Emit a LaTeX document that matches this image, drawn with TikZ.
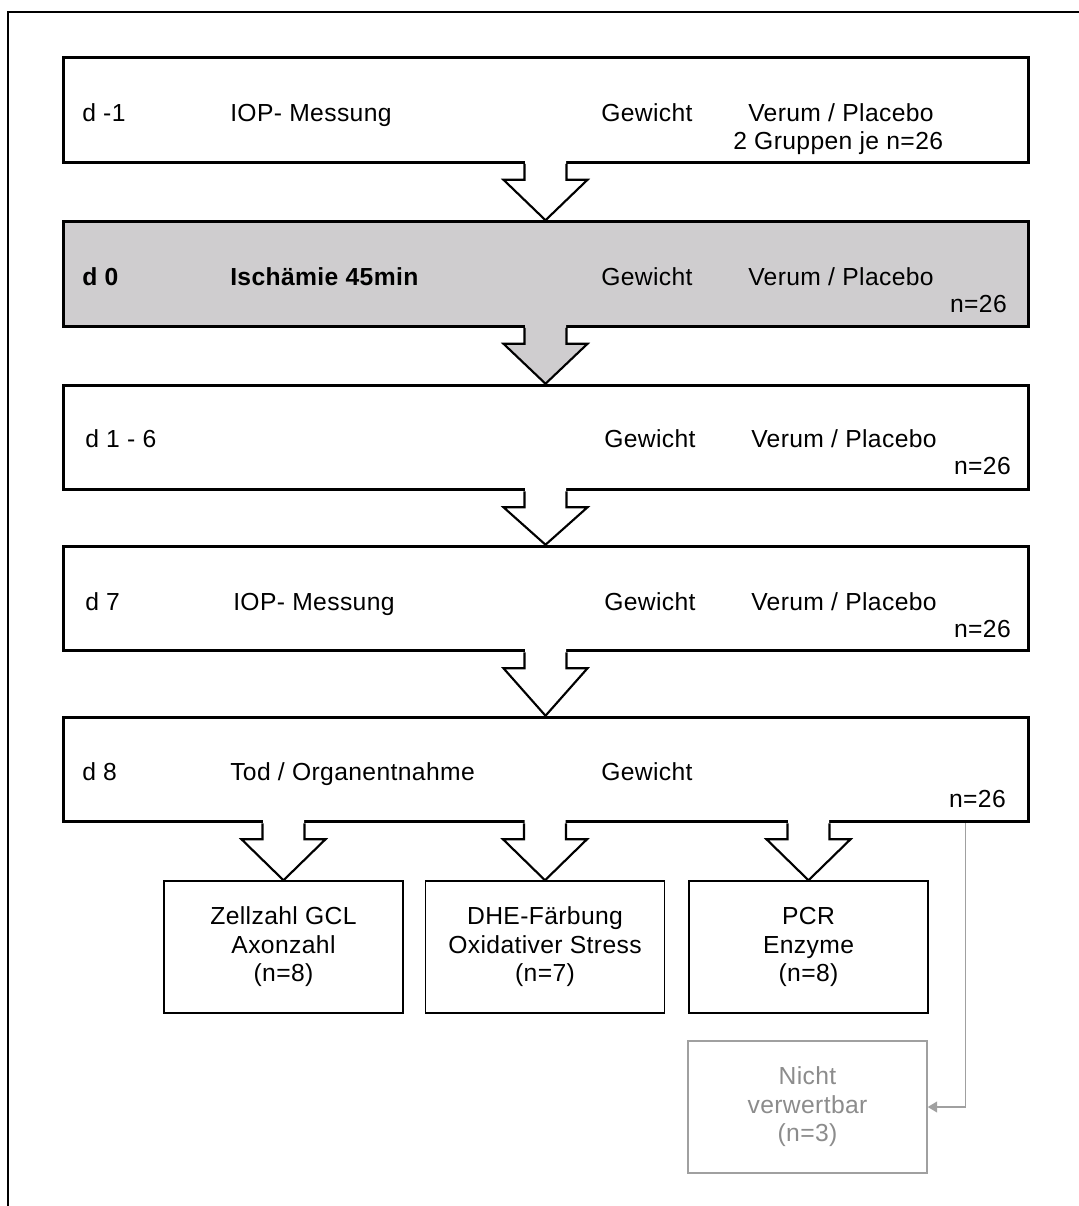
\documentclass[tikz,border=0pt]{standalone}
\usepackage{fontspec}
\setmainfont{Liberation Sans}[LetterSpace=1.5]
\usetikzlibrary{calc,arrows.meta}
\definecolor{boxgray}{RGB}{207,205,207}
\definecolor{softgray}{RGB}{160,160,160}
\definecolor{textgray}{RGB}{140,140,140}
\newcommand{\flowarrow}[3]{%
  \fill[#3] ($(#2.north |- #1.south)+(-20.5,-5)$) -- ++(0,21) -- ++(-21.5,0) -- (#2.north) -- ($(#2.north |- #1.south)+(42,16)$) -- ++(-21.5,0) -- ++(0,-21) -- cycle;
  \draw[arrowline] ($(#2.north |- #1.south)+(-21,0)$) -- ++(0,16) -- ++(-21,0) -- (#2.north) -- ($(#2.north |- #1.south)+(42,16)$) -- ++(-21,0) -- ++(0,-16);
}
\begin{document}
\begin{tikzpicture}[x=0.75pt,y=-0.75pt,
  mainbox/.style={draw=black,line width=2.25pt,minimum width=723.75pt,minimum height=78.4pt,inner sep=0pt},
  subbox/.style={draw=black,line width=1.1pt,minimum width=179.25pt,minimum height=99pt,inner sep=0pt,align=center,font=\fontsize{18.5pt}{21.3pt}\selectfont},
  greybox/.style={subbox,draw=softgray,text=textgray},
  arrowline/.style={draw=black,line width=1.6pt,line join=miter},
  txt/.style={anchor=base west,inner sep=0pt,font=\fontsize{18.5pt}{21pt}\selectfont},
  rtxt/.style={anchor=base east,inner sep=0pt,font=\fontsize{18.5pt}{21pt}\selectfont},
  btxt/.style={txt,font=\fontsize{18.5pt}{21pt}\selectfont\bfseries}]
\useasboundingbox (0,0) rectangle (1078,1206);
\fill[white] (0,0) rectangle (1078,1206);
\draw[line width=1.5pt] (8,1215) -- (8,12) -- (1090,12);

% main boxes
\node[mainbox] (b1) at (545.5,110) {};
\node[mainbox,fill=boxgray] (b2) at (545.5,274) {};
\node[mainbox] (b3) at (545.5,437.5) {};
\node[mainbox] (b4) at (545.5,598.5) {};
\node[mainbox] (b5) at (545.5,769.5) {};

% sub boxes
\node[subbox] (sa) at (283.5,947) {Zellzahl GCL\\Axonzahl\\(n=8)};
\node[subbox] (sb) at (545,947) {DHE-Färbung\\Oxidativer Stress\\(n=7)};
\node[subbox] (sc) at (808.5,947) {PCR\\Enzyme\\(n=8)};
\node[greybox] (sd) at (807.5,1107) {Nicht\\verwertbar\\(n=3)};

% texts box 1
\node[txt] (t1a) at (82,122) {d -1};
\node[txt] (t1b) at (230,122) {IOP- Messung};
\node[txt] (t1c) at (601,122) {Gewicht};
\node[txt] (t1d) at (748,122) {Verum / Placebo};
\node[txt] (t1e) at (733,149) {2 Gruppen je n=26};
% box 2
\node[btxt] (t2a) at (82,285) {d 0};
\node[btxt] (t2b) at (230,285) {Ischämie 45min};
\node[txt] (t2c) at (601,285) {Gewicht};
\node[txt] (t2d) at (748,285) {Verum / Placebo};
\node[rtxt] (t2e) at (1007,312) {n=26};
% box 3
\node[txt] (t3a) at (85,447) {d 1 - 6};
\node[txt] (t3c) at (604,447) {Gewicht};
\node[txt] (t3d) at (751,447) {Verum / Placebo};
\node[rtxt] (t3e) at (1011,474) {n=26};
% box 4
\node[txt] (t4a) at (85,610) {d 7};
\node[txt] (t4b) at (233,610) {IOP- Messung};
\node[txt] (t4c) at (604,610) {Gewicht};
\node[txt] (t4d) at (751,610) {Verum / Placebo};
\node[rtxt] (t4e) at (1011,637) {n=26};
% box 5
\node[txt] (t5a) at (82,780) {d 8};
\node[txt] (t5b) at (230,780) {Tod / Organentnahme};
\node[txt] (t5c) at (601,780) {Gewicht};
\node[rtxt] (t5e) at (1006,807) {n=26};

% arrows
\flowarrow{b1}{b2}{white}
\flowarrow{b2}{b3}{boxgray}
\flowarrow{b3}{b4}{white}
\flowarrow{b4}{b5}{white}
\flowarrow{b5}{sa}{white}
\flowarrow{b5}{sb}{white}
\flowarrow{b5}{sc}{white}

% grey connector
\draw[softgray,line width=1.3pt,-{Triangle[length=7pt,width=8pt]}] ($(b5.south west)+(904,0)$) |- (sd.east);
\end{tikzpicture}
\end{document}
